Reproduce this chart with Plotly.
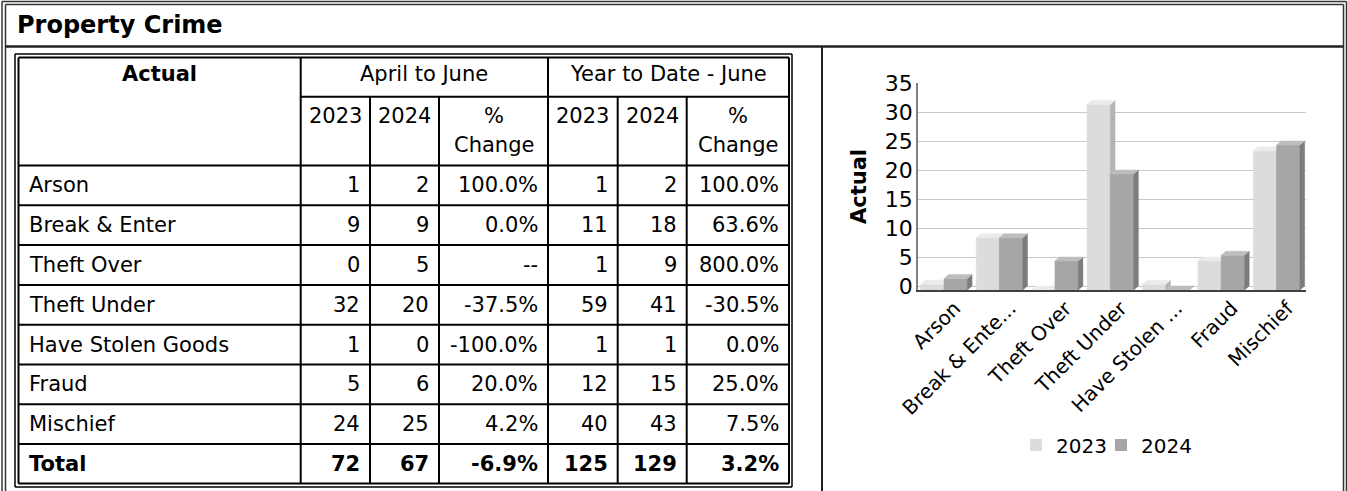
import plotly.graph_objects as go

# ---------------- data ----------------
categories = ["Arson", "Break & Enter", "Theft Over", "Theft Under",
              "Have Stolen Goods", "Fraud", "Mischief"]
chart_labels = ["Arson", "Break & Ente...", "Theft Over", "Theft Under",
                "Have Stolen ...", "Fraud", "Mischief"]
years = ["2023", "2024"]
apr_jun_2023 = [1, 9, 0, 32, 1, 5, 24]
apr_jun_2024 = [2, 9, 5, 20, 0, 6, 25]
ytd_2023 = [1, 11, 1, 59, 1, 12, 40]
ytd_2024 = [2, 18, 9, 41, 1, 15, 43]
y_ticks = [0, 5, 10, 15, 20, 25, 30, 35]

title_text = "Property Crime"
group_headers = ["April to June", "Year to Date - June"]


def pct(a, b):
    return "--" if a == 0 else f"{(b - a) / a * 100:.1f}%"


# ---------------- page geometry helpers ----------------
W, H = 1348, 491
FONT = "Tahoma, Verdana, DejaVu Sans, sans-serif"


def px(x):
    return x / W


def py(y):
    return 1 - y / H


shapes = []
annotations = []


def line(x0, y0, x1, y1, w=2, color="#000000"):
    shapes.append(dict(type="line", xref="paper", yref="paper",
                       x0=px(x0), y0=py(y0), x1=px(x1), y1=py(y1),
                       line=dict(color=color, width=w)))


def text(x, y, s, anchor="center", bold=False, size=21):
    if bold:
        s = f"<b>{s}</b>"
    annotations.append(dict(xref="paper", yref="paper", x=px(x), y=py(y),
                            text=s, showarrow=False, xanchor=anchor,
                            yanchor="middle", borderpad=0,
                            font=dict(family=FONT, size=size, color="#000000")))


# ---------------- page frame ----------------
line(2, 1.5, 2, 495, 1.5, "#333333")
line(5.5, 4.5, 5.5, 495, 1.5, "#333333")
line(2, 1.5, 1346.5, 1.5, 1.5, "#333333")
line(5.5, 4.5, 1343.5, 4.5, 1.5, "#333333")
line(1346.5, 1.5, 1346.5, 495, 1.5, "#333333")
line(1343.5, 4.5, 1343.5, 495, 1.5, "#333333")
line(5.5, 46.5, 1343.5, 46.5, 2.5, "#222222")
line(822, 46.5, 822, 495, 2, "#222222")
text(16, 25, title_text, anchor="left", bold=True, size=24)

# ---------------- table ----------------
col_edges = [18.5, 300.7, 370, 439, 548, 617.7, 686.7, 789]
row_edges = [57, 96.7, 165.5, 205.3, 245.1, 284.9, 324.7, 364.5, 404.3, 444.1, 483.5]

# double outer border
line(15, 54, 792, 54, 1.5)
line(15, 487, 792, 487, 1.5)
line(15, 54, 15, 487, 1.5)
line(792, 54, 792, 487, 1.5)
line(18.5, 57.5, 789, 57.5, 2)
line(18.5, 483.5, 789, 483.5, 2)
line(18.5, 57.5, 18.5, 483.5, 2)
line(789, 57.5, 789, 483.5, 2)
# internal grid
line(col_edges[1], row_edges[0], col_edges[1], row_edges[-1])
line(col_edges[4], row_edges[0], col_edges[4], row_edges[-1])
line(col_edges[1], row_edges[1], col_edges[-1], row_edges[1])
for c in (2, 3, 5, 6):
    line(col_edges[c], row_edges[1], col_edges[c], row_edges[-1])
for r in range(2, len(row_edges) - 1):
    line(col_edges[0], row_edges[r], col_edges[-1], row_edges[r])

# header text
hy1 = 74
text((col_edges[0] + col_edges[1]) / 2, hy1, "Actual", bold=True)
text((col_edges[1] + col_edges[4]) / 2, hy1, group_headers[0])
text((col_edges[4] + col_edges[7]) / 2, hy1, group_headers[1])
for start in (1, 4):
    for k, yr in enumerate(years):
        c = start + k
        text((col_edges[c] + col_edges[c + 1]) / 2, 116, yr)
    c = start + 2
    text((col_edges[c] + col_edges[c + 1]) / 2, 116, "%")
    text((col_edges[c] + col_edges[c + 1]) / 2, 145, "Change")

# body rows
rows = []
for i, name in enumerate(categories):
    rows.append((name, apr_jun_2023[i], apr_jun_2024[i],
                 ytd_2023[i], ytd_2024[i], False))
rows.append(("Total", sum(apr_jun_2023), sum(apr_jun_2024),
             sum(ytd_2023), sum(ytd_2024), True))

for r, (name, a23, a24, t23, t24, bold) in enumerate(rows):
    yc = (row_edges[r + 2] + row_edges[r + 3]) / 2
    text(28, yc, name, anchor="left", bold=bold)
    vals = [str(a23), str(a24), pct(a23, a24), str(t23), str(t24), pct(t23, t24)]
    for k, v in enumerate(vals):
        text(col_edges[k + 2] - 9, yc, v, anchor="right", bold=bold)

# ---------------- 3D-looking bar chart ----------------
DX = 0.085     # depth, category units
DY = 0.69      # depth, value units
BW = 0.42      # bar width
offsets = [-0.45, -0.03]
front_cols = ["#DCDCDC", "#A6A6A6"]
side_cols = ["#B4B4B4", "#7C7C7C"]
top_cols = ["#EBEBEB", "#BDBDBD"]
series = [apr_jun_2023, apr_jun_2024]

fig = go.Figure()


def poly_trace(xs, ys, color):
    fig.add_trace(go.Scatter(x=xs, y=ys, mode="lines", fill="toself",
                             fillcolor=color, line=dict(color=color, width=0.5),
                             hoverinfo="skip", showlegend=False))


for s, vals in enumerate(series):
    fx, fy, sx, sy, tx, ty = [], [], [], [], [], []
    for i, v in enumerate(vals):
        xl = i + offsets[s]
        xr = xl + BW
        b = -DY
        t = v - DY
        fx += [xl, xr, xr, xl, xl, None]
        fy += [b, b, t, t, b, None]
        sx += [xr, xr + DX, xr + DX, xr, xr, None]
        sy += [b, b + DY, t + DY, t, b, None]
        tx += [xl, xr, xr + DX, xl + DX, xl, None]
        ty += [t, t, t + DY, t + DY, t, None]
    poly_trace(fx, fy, front_cols[s])
    poly_trace(sx, sy, side_cols[s])
    poly_trace(tx, ty, top_cols[s])

# legend entries (one legend box per year for exact spacing)
legend_names = ["legend", "legend2"]
for s, yr in enumerate(years):
    fig.add_trace(go.Bar(x=[None], y=[None], name=yr, legend=legend_names[s],
                         marker=dict(color=front_cols[s], line=dict(width=0))))

legend_style = dict(orientation="h", xanchor="left", y=py(445),
                    yanchor="middle", font=dict(size=20),
                    bgcolor="rgba(0,0,0,0)", itemwidth=30)

fig.update_layout(
    width=W, height=H,
    margin=dict(l=0, r=0, t=0, b=0),
    paper_bgcolor="white", plot_bgcolor="white",
    font=dict(family=FONT, size=20, color="#000000"),
    shapes=shapes, annotations=annotations,
    showlegend=True,
    legend=dict(x=px(1016), **legend_style),
    legend2=dict(x=px(1101), **legend_style),
    xaxis=dict(domain=[px(918), px(1306)], range=[-0.5, 6.5],
               tickmode="array", tickvals=list(range(len(chart_labels))),
               ticktext=chart_labels, tickangle=-45,
               tickfont=dict(size=20), showgrid=False, zeroline=False,
               showline=True, linecolor="#404040", linewidth=1.5,
               ticks="", ticklabelshift=9, ticklabelstandoff=-3,
               automargin=False, fixedrange=True),
    yaxis=dict(domain=[py(290), py(83)], range=[-DY, 35],
               tickmode="array", tickvals=y_ticks,
               tickfont=dict(size=22), showgrid=True, gridcolor="#C8C8C8",
               gridwidth=1, zeroline=False, showline=True,
               linecolor="#808080", linewidth=1.5, ticks="",
               ticklabelstandoff=-1,
               title=dict(text="<b>Actual</b>", font=dict(size=21), standoff=12),
               automargin=False, fixedrange=True),
)

fig.write_html("out.html",
               config={"displayModeBar": False},
               post_script="document.body.style.margin='0';"
                           "document.body.style.overflow='hidden';")
